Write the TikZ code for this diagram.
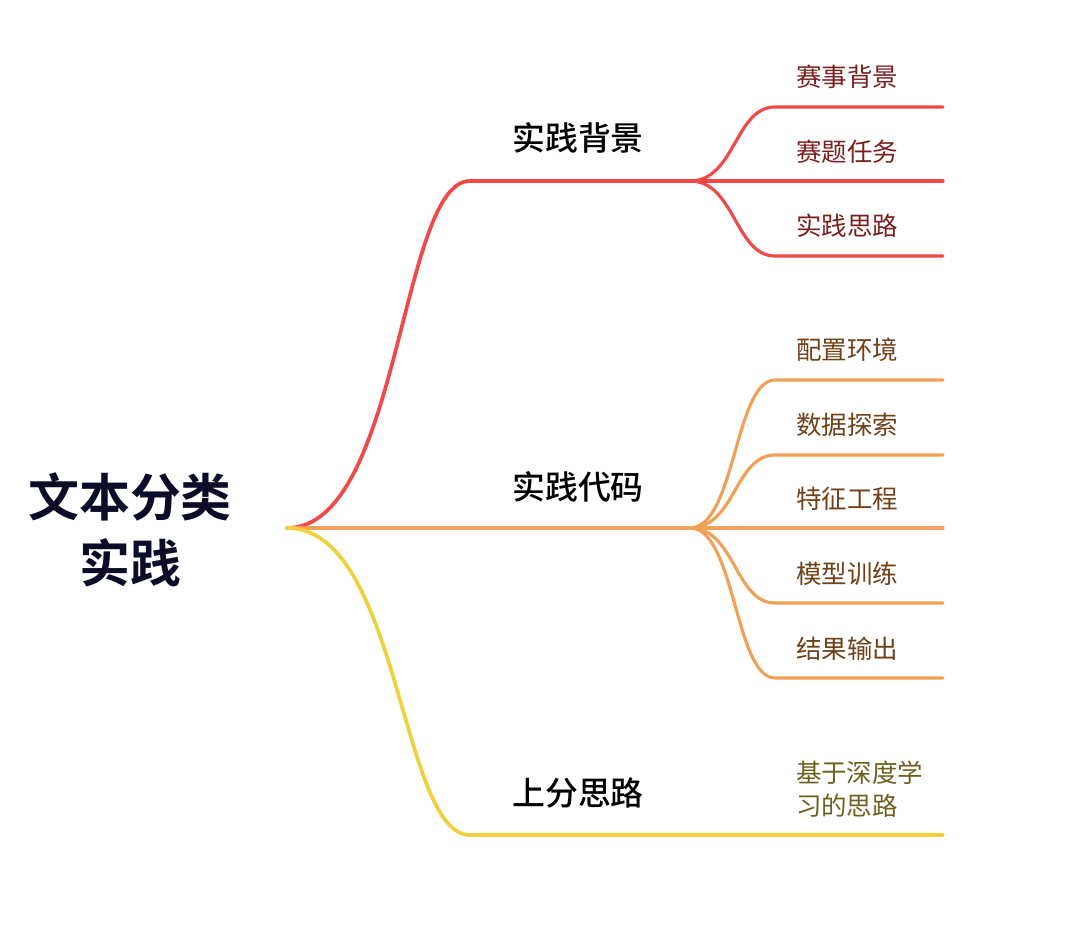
\documentclass[tikz,border=0pt]{standalone}
\usepackage{fontspec}
\setmainfont{Noto Sans CJK SC}[BoldFont={Noto Sans CJK SC Bold}]
\newfontfamily\mmmedium{Noto Sans CJK SC Medium}

\definecolor{mmred}{RGB}{242,72,72}
\definecolor{mmorange}{RGB}{242,160,88}
\definecolor{mmyellow}{RGB}{240,208,60}
\definecolor{mmroottext}{RGB}{10,12,40}
\definecolor{mmredtext}{RGB}{122,30,30}
\definecolor{mmorangetext}{RGB}{112,64,24}
\definecolor{mmyellowtext}{RGB}{112,96,32}

\begin{document}
\begin{tikzpicture}[
  x=1cm,
  y=1cm,
  every node/.style={inner sep=0pt, outer sep=0pt},
  rootlabel/.style={font=\bfseries\fontsize{29}{37.5}\selectfont, text=mmroottext, align=center},
  branchlabel/.style={font=\mmmedium\fontsize{18.7}{22}\selectfont, text=black},
  leaflabel/.style={font=\fontsize{14.5}{18.7}\selectfont, align=left},
  mainline/.style={line width=2.1pt, line cap=round},
  leafline/.style={line width=1.8pt, line cap=round}
]

  \path[use as bounding box] (0,0) rectangle (21.60,18.66);

  % Root of the map.
  \node[rootlabel] (root) at (2.60,8.06) {文本分类\\实践};
  \coordinate (hub) at (5.74,8.10);

  % First branch (red).
  \node[branchlabel] (bg) at (11.56,15.90) {实践背景};
  \coordinate (bgstart) at (9.40,15.04);
  \coordinate (bgfork) at (13.80,15.04);
  \draw[mainline, draw=mmred] (hub) .. controls +(2.26,0) and +(-1.40,0) .. (bgstart) -- (bgfork);

  \node[leaflabel, text=mmredtext] (bga) at (16.94,17.12) {赛事背景};
  \node[leaflabel, text=mmredtext] (bgb) at (16.94,15.62) {赛题任务};
  \node[leaflabel, text=mmredtext] (bgc) at (16.94,14.14) {实践思路};
  \coordinate (bgaL) at (15.50,16.52);
  \coordinate (bgaR) at (18.86,16.52);
  \coordinate (bgbR) at (18.86,15.04);
  \coordinate (bgcL) at (15.50,13.54);
  \coordinate (bgcR) at (18.86,13.54);
  \draw[leafline, draw=mmred] (bgfork) .. controls +(0.90,0) and +(-0.80,0) .. (bgaL) -- (bgaR);
  \draw[leafline, draw=mmred] (bgfork) -- (bgbR);
  \draw[leafline, draw=mmred] (bgfork) .. controls +(0.90,0) and +(-0.80,0) .. (bgcL) -- (bgcR);

  % Second branch (orange).
  \node[branchlabel] (code) at (11.56,8.92) {实践代码};
  \coordinate (codefork) at (13.80,8.10);
  \draw[mainline, draw=mmorange] (hub) -- (codefork);

  \node[leaflabel, text=mmorangetext] (codea) at (16.94,11.66) {配置环境};
  \node[leaflabel, text=mmorangetext] (codeb) at (16.94,10.16) {数据探索};
  \node[leaflabel, text=mmorangetext] (codec) at (16.94,8.68) {特征工程};
  \node[leaflabel, text=mmorangetext] (coded) at (16.94,7.18) {模型训练};
  \node[leaflabel, text=mmorangetext] (codee) at (16.94,5.68) {结果输出};
  \coordinate (codeaL) at (15.50,11.06);
  \coordinate (codeaR) at (18.86,11.06);
  \coordinate (codebL) at (15.50,9.56);
  \coordinate (codebR) at (18.86,9.56);
  \coordinate (codecR) at (18.86,8.10);
  \coordinate (codedL) at (15.50,6.60);
  \coordinate (codedR) at (18.86,6.60);
  \coordinate (codeeL) at (15.50,5.10);
  \coordinate (codeeR) at (18.86,5.10);
  \draw[leafline, draw=mmorange] (codefork) .. controls +(0.90,0) and +(-0.80,0) .. (codeaL) -- (codeaR);
  \draw[leafline, draw=mmorange] (codefork) .. controls +(0.90,0) and +(-0.80,0) .. (codebL) -- (codebR);
  \draw[leafline, draw=mmorange] (codefork) -- (codecR);
  \draw[leafline, draw=mmorange] (codefork) .. controls +(0.90,0) and +(-0.80,0) .. (codedL) -- (codedR);
  \draw[leafline, draw=mmorange] (codefork) .. controls +(0.90,0) and +(-0.80,0) .. (codeeL) -- (codeeR);

  % Third branch (yellow).
  \node[branchlabel] (up) at (11.56,2.80) {上分思路};
  \coordinate (upstart) at (9.40,1.96);
  \coordinate (upend) at (18.86,1.96);
  \draw[mainline, draw=mmyellow] (hub) .. controls +(2.26,0) and +(-1.40,0) .. (upstart) -- (upend);
  \node[leaflabel, text=mmyellowtext, anchor=west] (upa) at (15.92,2.88) {基于深度学\\习的思路};

\end{tikzpicture}
\end{document}
